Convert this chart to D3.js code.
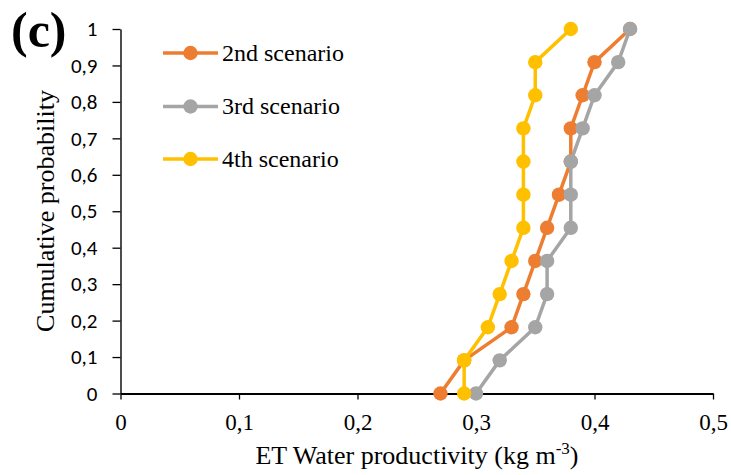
<!DOCTYPE html>
<html>
<head>
<meta charset="utf-8">
<script src="https://cdn.jsdelivr.net/npm/d3@7"></script>
<style>
  html, body { margin: 0; padding: 0; background: #fff; }
  svg { display: block; }
</style>
</head>
<body>
<svg id="chart" width="731" height="475"></svg>
<script>
// Cumulative probability levels (k / 11, k = 0..11)
const probabilities = [0, 1/11, 2/11, 3/11, 4/11, 5/11, 6/11, 7/11, 8/11, 9/11, 10/11, 1];

// ET water productivity (kg m-3) per scenario, sorted ascending
const scenario2 = [0.27, 0.29, 0.33, 0.34, 0.35, 0.36, 0.37, 0.38, 0.38, 0.39, 0.40, 0.43];
const scenario3 = [0.30, 0.32, 0.35, 0.36, 0.36, 0.38, 0.38, 0.38, 0.39, 0.40, 0.42, 0.43];
const scenario4 = [0.29, 0.29, 0.31, 0.32, 0.33, 0.34, 0.34, 0.34, 0.34, 0.35, 0.35, 0.38];

const seriesNames = ["2nd scenario", "3rd scenario", "4th scenario"];
const seriesColors = ["#ED7D31", "#A5A5A5", "#FFC000"];

const xTicks = [0, 0.1, 0.2, 0.3, 0.4, 0.5];
const yTicks = [0, 0.1, 0.2, 0.3, 0.4, 0.5, 0.6, 0.7, 0.8, 0.9, 1];

const series = [scenario2, scenario3, scenario4].map((vals, i) => ({
  name: seriesNames[i],
  color: seriesColors[i],
  points: vals.map((v, j) => ({ x: v, y: probabilities[j] }))
}));

const serif = "'Liberation Serif', 'Times New Roman', serif";
const sans = "Carlito, 'Liberation Sans', sans-serif";

const svg = d3.select("#chart");
const plotLeft = 120.5, plotRight = 713, plotTop = 29, plotBottom = 393.5;

const x = d3.scaleLinear().domain([0, 0.5]).range([plotLeft, plotRight]);
const y = d3.scaleLinear().domain([0, 1]).range([plotBottom, plotTop]);

const fmt = d => d === 0 ? "0" : (d === 1 ? "1" : d3.format(".1f")(d).replace(".", ","));

// X axis
const xAxis = svg.append("g")
  .attr("transform", `translate(0,${plotBottom})`)
  .call(d3.axisBottom(x).tickValues(xTicks).tickFormat(fmt).tickSize(6).tickSizeOuter(0));
xAxis.select(".domain").attr("stroke", "#000").attr("stroke-width", 2);
xAxis.selectAll(".tick line").attr("stroke", "#000").attr("stroke-width", 1.3);
xAxis.selectAll(".tick text")
  .style("font-family", serif)
  .style("font-size", "23px").attr("fill", "#000").attr("y", 28).attr("dy", "0.35em");

// Y axis
const yAxis = svg.append("g")
  .attr("transform", `translate(${plotLeft},0)`)
  .call(d3.axisLeft(y).tickValues(yTicks).tickFormat(fmt).tickSize(8).tickSizeOuter(0));
yAxis.select(".domain").attr("stroke", "#000").attr("stroke-width", 1.4);
yAxis.selectAll(".tick line").attr("stroke", "#000").attr("stroke-width", 1.3);
yAxis.selectAll(".tick text")
  .style("font-family", sans)
  .style("font-size", "21px").attr("fill", "#000").attr("x", -23);

// Axis titles
svg.append("text")
  .attr("x", 417).attr("y", 464)
  .attr("text-anchor", "middle")
  .style("font-family", serif)
  .style("font-size", "26px")
  .html('ET Water productivity (kg m<tspan dy="-10" style="font-size:17px">-3</tspan><tspan dy="10">)</tspan>');

svg.append("text")
  .attr("transform", "translate(54,211) rotate(-90)")
  .attr("text-anchor", "middle")
  .style("font-family", serif)
  .style("font-size", "26px")
  .text("Cumulative probability");

// Panel label
svg.append("text")
  .attr("x", 11).attr("y", 47)
  .style("font-family", serif)
  .style("font-weight", "bold")
  .style("font-size", "50px")
  .text("(c)");

// Series lines and markers
const line = d3.line().x(d => x(d.x)).y(d => y(d.y));
series.forEach(s => {
  const g = svg.append("g");
  g.append("path")
    .attr("d", line(s.points))
    .attr("fill", "none")
    .attr("stroke", s.color)
    .attr("stroke-width", 3.5)
    .attr("stroke-linejoin", "round");
  g.selectAll("circle").data(s.points).join("circle")
    .attr("cx", d => x(d.x)).attr("cy", d => y(d.y))
    .attr("r", 7.2)
    .attr("fill", s.color);
});

// Legend
const legendY = [53, 106.5, 159];
series.forEach((s, i) => {
  const g = svg.append("g").attr("transform", `translate(0,${legendY[i]})`);
  g.append("line").attr("x1", 163).attr("x2", 218).attr("y1", 0).attr("y2", 0)
    .attr("stroke", s.color).attr("stroke-width", 3.5);
  g.append("circle").attr("cx", 190.5).attr("cy", 0).attr("r", 7.2).attr("fill", s.color);
  g.append("text").attr("x", 222).attr("y", 0).attr("dy", "0.33em")
    .style("font-family", serif)
    .style("font-size", "24px").attr("fill", "#000")
    .text(s.name);
});
</script>
</body>
</html>
